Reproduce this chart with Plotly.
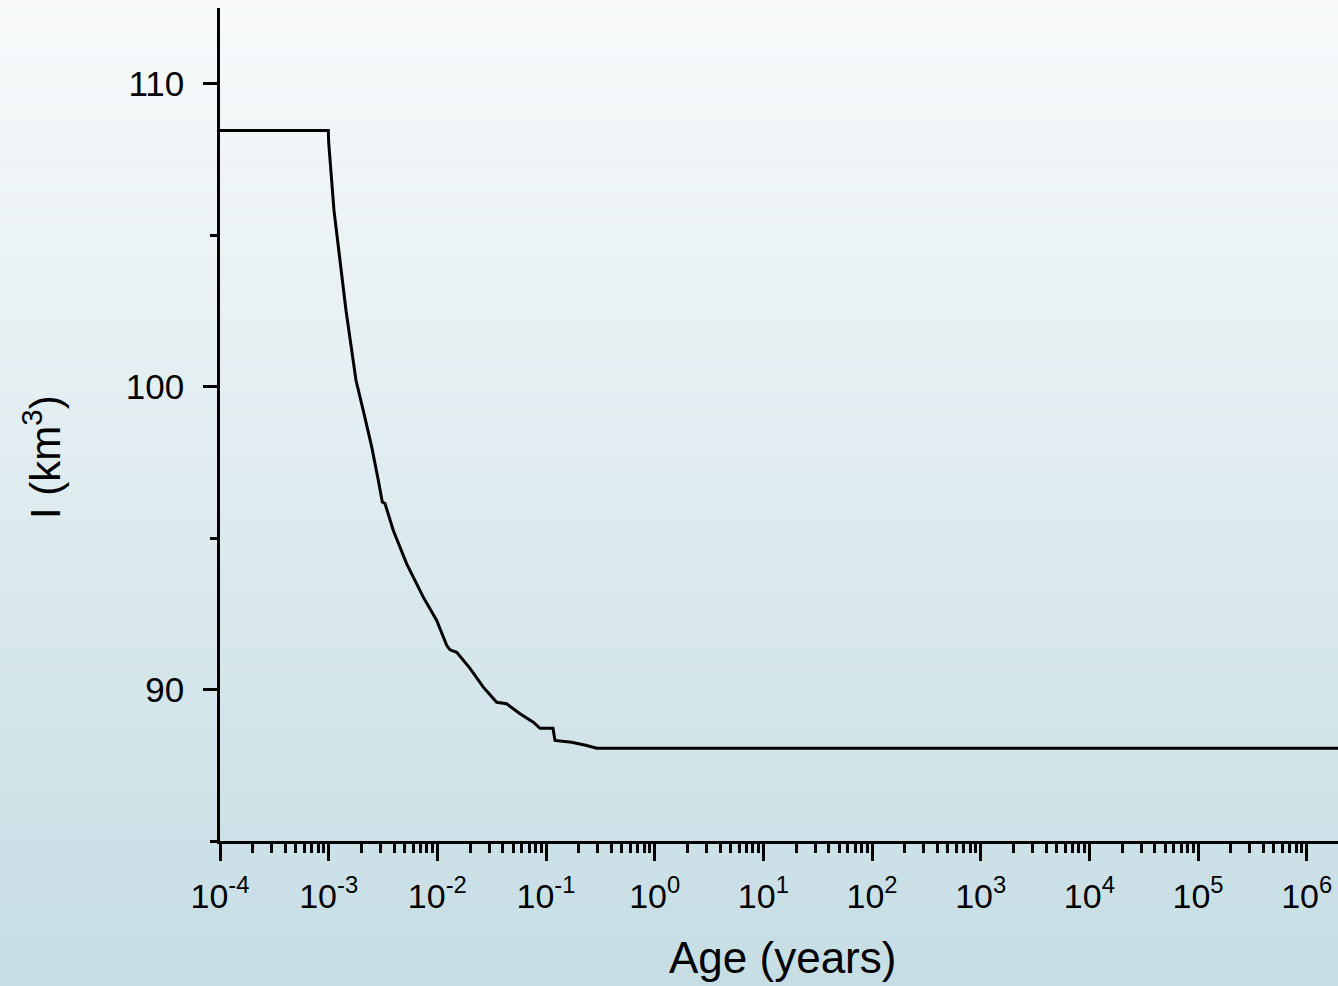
import plotly.graph_objects as go

# Ice volume versus age
age_years = [1e-4, 9.92e-4, 1.0e-3, 1.119e-3, 1.443e-3, 1.784e-3, 2.114e-3, 2.489e-3,
             2.862e-3, 3.115e-3, 3.299e-3, 3.934e-3, 5.225e-3, 7.426e-3, 9.865e-3,
             1.219e-2, 1.308e-2, 1.508e-2, 1.998e-2, 2.648e-2, 3.516e-2, 4.348e-2,
             5.764e-2, 7.637e-2, 8.807e-2, 0.1159, 0.1210, 0.1723, 0.2368, 0.2927, 3e6]
volume_km3 = [108.46, 108.46, 108.07, 105.82, 102.52, 100.21, 99.11, 98.01,
              96.91, 96.19, 96.14, 95.25, 94.15, 93.05, 92.28,
              91.46, 91.31, 91.23, 90.70, 90.08, 89.58, 89.53,
              89.20, 88.92, 88.72, 88.72, 88.32, 88.26, 88.15, 88.06, 88.06]

x_tick_vals = [1e-4, 1e-3, 1e-2, 1e-1, 1e0, 1e1, 1e2, 1e3, 1e4, 1e5, 1e6]
x_tick_text = ["10<sup>-4</sup>", "10<sup>-3</sup>", "10<sup>-2</sup>", "10<sup>-1</sup>",
               "10<sup>0</sup>", "10<sup>1</sup>", "10<sup>2</sup>", "10<sup>3</sup>",
               "10<sup>4</sup>", "10<sup>5</sup>", "10<sup>6</sup>"]
y_tick_vals = [90, 100, 110]

W, H = 1338, 986
ML, MR, MT, MB = 220, 0, 8, 145
PW, PH = W - ML - MR, H - MT - MB

FONT = "Liberation Sans, Arial, sans-serif"

fig = go.Figure()
fig.add_trace(go.Scatter(
    x=age_years, y=volume_km3, mode="lines",
    line=dict(color="black", width=3),
    showlegend=False,
))

# vertical background gradient across the whole page
top_rgb = (248, 250, 251)
bot_rgb = (197, 221, 228)
bands = 140
shapes = []
x0p, x1p = -ML / PW, 1 + MR / PW
for i in range(bands):
    t = (i + 0.5) / bands
    c = tuple(round(top_rgb[k] + (bot_rgb[k] - top_rgb[k]) * t) for k in range(3))
    ytop_px = H * i / bands
    ybot_px = H * (i + 1) / bands + 1
    shapes.append(dict(
        type="rect", xref="paper", yref="paper", layer="below",
        x0=x0p, x1=x1p,
        y0=(H - MB - ybot_px) / PH, y1=(H - MB - ytop_px) / PH,
        fillcolor="rgb(%d,%d,%d)" % c, line=dict(width=0),
    ))

fig.update_layout(
    width=W, height=H,
    margin=dict(l=ML, r=MR, t=MT, b=MB, pad=0),
    paper_bgcolor="rgb(%d,%d,%d)" % bot_rgb,
    plot_bgcolor="rgba(0,0,0,0)",
    font=dict(family=FONT, size=34, color="black"),
    shapes=shapes,
    showlegend=False,
    annotations=[
        dict(text="Age (years)", xref="paper", yref="paper",
             x=(782 - ML) / PW, y=(H - MB - 958) / PH,
             xanchor="center", yanchor="middle", showarrow=False,
             font=dict(family=FONT, size=44, color="black")),
        dict(text="I (km<sup>3</sup>)", xref="paper", yref="paper",
             x=(42 - ML) / PW, y=(H - MB - 457) / PH, textangle=-90,
             xanchor="center", yanchor="middle", showarrow=False,
             font=dict(family=FONT, size=42, color="black")),
    ],
)

fig.update_xaxes(
    type="log", range=[-4, 6.288],
    showgrid=False, zeroline=False,
    showline=True, linecolor="black", linewidth=2.5,
    ticks="outside", ticklen=17, tickwidth=2.5, tickcolor="black",
    tickvals=x_tick_vals, ticktext=x_tick_text,
    ticklabelstandoff=6,
    tickfont=dict(family=FONT, size=34, color="black"),
    minor=dict(ticks="outside", ticklen=9, tickwidth=2.5, tickcolor="black",
               dtick="D1", showgrid=False),
)
fig.update_yaxes(
    range=[85, 112.5],
    showgrid=False, zeroline=False,
    showline=True, linecolor="black", linewidth=2.5,
    ticks="outside", ticklen=14, tickwidth=2.5, tickcolor="black",
    tickvals=y_tick_vals,
    ticklabelstandoff=12,
    tickfont=dict(family=FONT, size=35, color="black"),
    minor=dict(ticks="outside", ticklen=7, tickwidth=2.5, tickcolor="black",
               dtick=5, tick0=85, showgrid=False),
)

fig.write_html("out.html")
